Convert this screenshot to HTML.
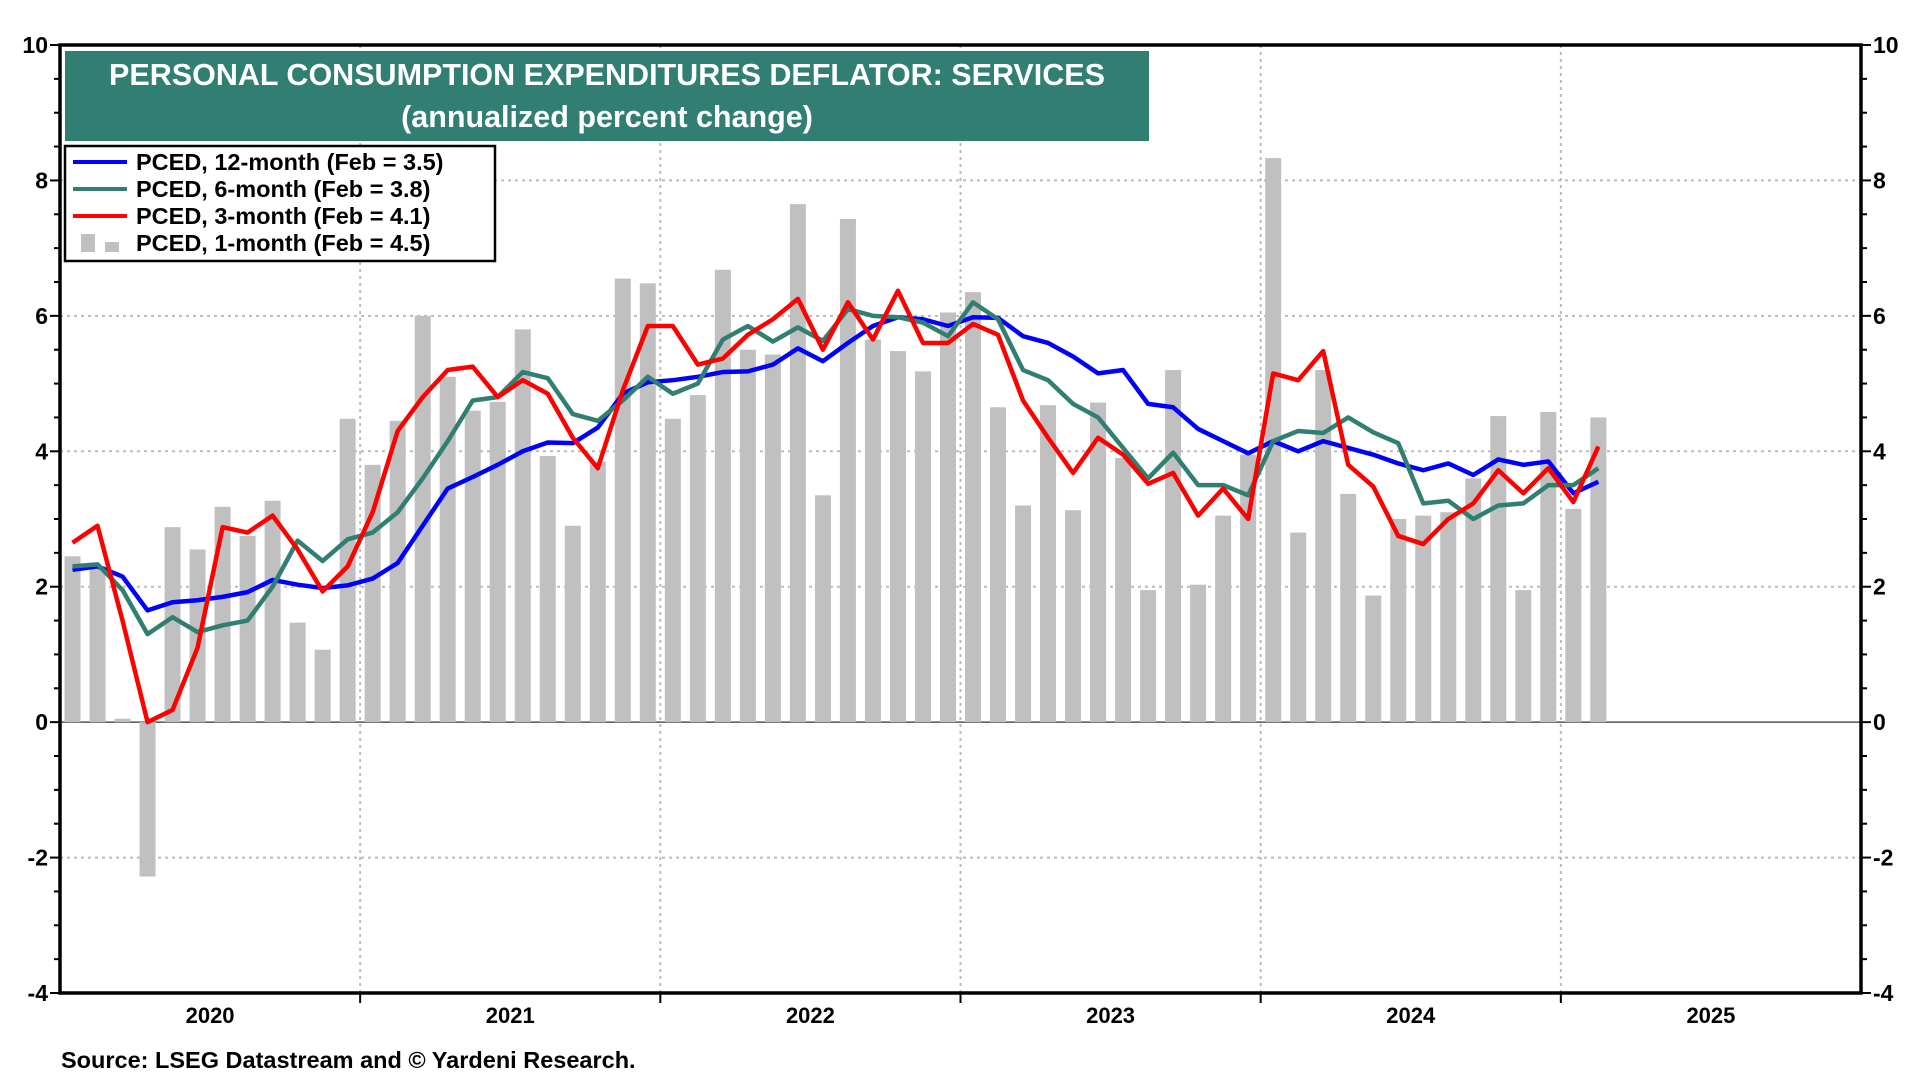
<!DOCTYPE html>
<html><head><meta charset="utf-8"><style>
html,body{margin:0;padding:0;background:#fff;width:1920px;height:1080px;overflow:hidden}
svg text{font-family:"Liberation Sans",Arial,sans-serif;font-weight:bold}
</style></head><body>
<svg id="chart" width="1920" height="1080" viewBox="0 0 1920 1080" xmlns="http://www.w3.org/2000/svg">
<g id="grid"></g>
<g id="bars"></g>
<g id="lines"></g>
<g id="axes"></g>
<rect x="65" y="51" width="1084" height="90" fill="#317f72"/>
<text x="607" y="85" fill="#fff" font-size="30.5" text-anchor="middle">PERSONAL CONSUMPTION EXPENDITURES DEFLATOR: SERVICES</text>
<text x="607" y="127" fill="#fff" font-size="30.5" text-anchor="middle">(annualized percent change)</text>
<g>
<rect x="65" y="146" width="430" height="115" fill="#fff" stroke="#000" stroke-width="2.5"/>
<line x1="73" y1="162" x2="127" y2="162" stroke="#0000ff" stroke-width="4"/>
<text x="136" y="170" font-size="23.5">PCED, 12-month (Feb = 3.5)</text>
<line x1="73" y1="189" x2="127" y2="189" stroke="#317f72" stroke-width="4"/>
<text x="136" y="197" font-size="23.5">PCED, 6-month (Feb = 3.8)</text>
<line x1="73" y1="216" x2="127" y2="216" stroke="#ff0000" stroke-width="4"/>
<text x="136" y="224" font-size="23.5">PCED, 3-month (Feb = 4.1)</text>
<rect x="81" y="234" width="14" height="18" fill="#c0c0c0"/><rect x="105" y="242" width="14" height="10" fill="#c0c0c0"/>
<text x="136" y="251" font-size="23.5">PCED, 1-month (Feb = 4.5)</text>
</g>
<text x="61" y="1068" font-size="23.5">Source: LSEG Datastream and © Yardeni Research.</text>
</svg>
<script>
const oneMonth=[2.45,2.3,0.05,-2.28,2.88,2.55,3.18,2.75,3.27,1.47,1.07,4.48,3.8,4.45,6.0,5.1,4.6,4.73,5.8,3.93,2.9,3.85,6.55,6.48,4.48,4.83,6.68,5.5,5.43,7.65,3.35,7.43,5.65,5.48,5.18,6.05,6.35,4.65,3.2,4.68,3.13,4.72,3.9,1.95,5.2,2.03,3.05,3.95,8.33,2.8,5.2,3.37,1.87,3.0,3.05,3.1,3.6,4.52,1.95,4.58,3.15,4.5];
const twelveMonth=[2.25,2.3,2.15,1.65,1.77,1.8,1.85,1.92,2.1,2.03,1.98,2.02,2.12,2.35,2.9,3.45,3.62,3.8,4.0,4.13,4.12,4.35,4.85,5.02,5.05,5.1,5.17,5.18,5.28,5.52,5.33,5.6,5.85,5.98,5.95,5.85,5.98,5.97,5.7,5.6,5.4,5.15,5.2,4.7,4.65,4.33,4.15,3.97,4.15,4.0,4.15,4.05,3.95,3.82,3.72,3.82,3.65,3.88,3.8,3.85,3.38,3.55];
const sixMonth=[2.3,2.33,1.95,1.3,1.55,1.33,1.43,1.5,2.0,2.68,2.38,2.7,2.8,3.1,3.6,4.15,4.75,4.8,5.17,5.08,4.55,4.45,4.75,5.1,4.85,5.0,5.65,5.85,5.62,5.83,5.63,6.1,6.0,5.98,5.9,5.7,6.2,5.95,5.2,5.05,4.7,4.5,4.05,3.6,3.98,3.5,3.5,3.35,4.15,4.3,4.27,4.5,4.28,4.12,3.23,3.27,3.0,3.2,3.23,3.5,3.5,3.75];
const threeMonth=[2.65,2.9,1.5,0.0,0.18,1.1,2.88,2.8,3.05,2.55,1.93,2.3,3.1,4.3,4.8,5.2,5.25,4.8,5.05,4.85,4.2,3.75,4.9,5.85,5.85,5.28,5.37,5.72,5.95,6.25,5.5,6.2,5.65,6.37,5.6,5.6,5.88,5.72,4.75,4.2,3.68,4.2,3.95,3.52,3.68,3.05,3.45,3.0,5.15,5.05,5.48,3.8,3.48,2.75,2.63,3.0,3.23,3.72,3.38,3.75,3.25,4.07];
const yTicks=[-4,-2,0,2,4,6,8,10];
const years=["2020","2021","2022","2023","2024","2025"];

const X0=60,X1=1861,YT=45,YB=993,VMIN=-4,VMAX=10,NM=72;
const mw=(X1-X0)/NM;
const xm=i=>X0+mw*(i+0.5);
const y=v=>YB-(v-VMIN)/(VMAX-VMIN)*(YB-YT);
const NS="http://www.w3.org/2000/svg";
function mk(tag,attrs,parent){const e=document.createElementNS(NS,tag);for(const k in attrs)e.setAttribute(k,attrs[k]);parent.appendChild(e);return e;}
const grid=document.getElementById('grid'),bars=document.getElementById('bars'),lines=document.getElementById('lines'),axes=document.getElementById('axes');

yTicks.forEach(v=>{
  if(v!==VMIN&&v!==VMAX&&v!==0){const g=mk('line',{x1:X0,x2:X1,y1:y(v),y2:y(v),stroke:'#bbb','stroke-width':2,'stroke-dasharray':'3,4'},grid);
  
  }
  const l=mk('text',{x:X0-12,y:y(v)+8,'font-size':23,'text-anchor':'end'},axes);l.textContent=v;
  
  
  const r=mk('text',{x:X1+12,y:y(v)+8,'font-size':23},axes);r.textContent=v;
  
  
});
for(let v=VMIN;v<=VMAX;v+=0.5){
  const len=(v%2===0)?10:6;
  mk('line',{x1:X0-len,x2:X0,y1:y(v),y2:y(v),stroke:'#000','stroke-width':2},axes);
  mk('line',{x1:X1,x2:X1+len,y1:y(v),y2:y(v),stroke:'#000','stroke-width':2},axes);
}
years.forEach((yr,k)=>{
  const xb=X0+mw*12*k;
  if(k>0){const g=mk('line',{x1:xb,x2:xb,y1:YT,y2:YB,stroke:'#bbb','stroke-width':2,'stroke-dasharray':'3,4'},grid);
  
  
  mk('line',{x1:xb,x2:xb,y1:YB,y2:YB+10,stroke:'#000','stroke-width':2},axes);}
  const t=mk('text',{x:xb+mw*6,y:YB+30,'font-size':22,'text-anchor':'middle'},axes);t.textContent=yr;
  
  
});
const zl=mk('line',{x1:X0,x2:X1,y1:y(0),y2:y(0),stroke:'#555','stroke-width':1.5},grid);



oneMonth.forEach((v,i)=>{
  const bw=16;const top=Math.min(y(v),y(0));const h=Math.abs(y(v)-y(0));
  const b=mk('rect',{x:xm(i)-bw/2,y:top,width:bw,height:Math.max(h,1),fill:'#c0c0c0'},bars);
  
  
});
function drawLine(data,color,name){
  const p=mk('polyline',{points:data.map((v,i)=>xm(i)+','+y(v)).join(' '),fill:'none',stroke:color,'stroke-width':4.5,'stroke-linejoin':'round'},lines);
  
  
}
drawLine(twelveMonth,'#0000ff','line-12-month');
drawLine(sixMonth,'#317f72','line-6-month');
drawLine(threeMonth,'#ff0000','line-3-month');

const frame=mk('rect',{x:X0,y:YT,width:X1-X0,height:YB-YT,fill:'none',stroke:'#000','stroke-width':3.5},axes);


</script>
</body></html>
